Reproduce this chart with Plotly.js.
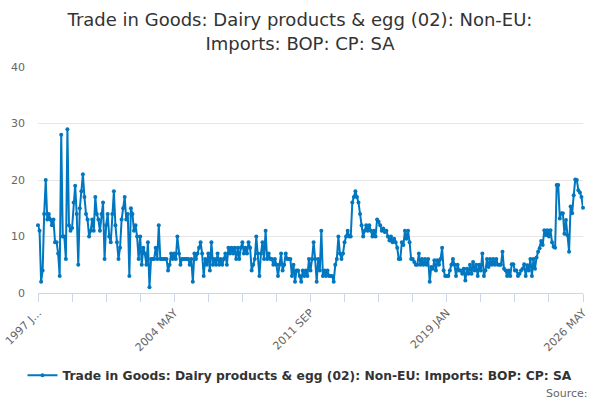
<!DOCTYPE html>
<html>
<head>
<meta charset="utf-8">
<script src="https://cdn.plot.ly/plotly-3.0.1.min.js"></script>
<style>html,body{margin:0;padding:0;background:#fff;}#chart{width:600px;height:400px;}</style>
</head>
<body>
<div id="chart"></div>
<script>
// Monthly series, 1997 JAN to 2026 MAY
var monthNames = ["JAN","FEB","MAR","APR","MAY","JUN","JUL","AUG","SEP","OCT","NOV","DEC"];
var startYear = 1997;
var values1997to2001 = [
  12, 11, 2, 4, 14, 20, 13, 14, 13, 12, 13, 9,
  9, 7, 3, 28, 10, 10, 6, 29, 12, 11, 11.5, 16,
  19, 14, 5, 15, 18, 21, 17, 14, 13, 10, 11, 13,
  11, 17, 14, 13, 11, 14, 16, 6, 12, 14, 10, 9,
  14, 18, 12, 9, 6, 8, 13, 15, 17, 13, 14
];
var values2001to2005 = [
  3, 15, 14, 11, 12, 10, 6, 10, 5, 8,
  7, 5, 9, 1, 6, 6, 6, 8, 6, 12,
  6, 6, 6, 6, 6, 4, 5, 7, 6, 7,
  6, 10, 7, 5, 6, 6, 6, 6, 6, 5, 6
];
var values2005to2007 = [
  2, 7, 6, 7, 8, 9, 7, 3, 6, 5,
  7, 4, 9, 5, 6, 5, 7, 5, 6, 5,
  6, 7, 5, 8, 7, 8, 7, 8, 6, 8
];
var values2007to2011 = [
  6, 8, 9, 7, 8, 7, 9, 8, 4, 5,
  6, 10, 7, 3, 7, 9, 6, 11, 6, 7,
  6, 6, 5, 6, 5, 3, 5, 7, 4, 5,
  7, 6, 6, 6, 3, 5, 2, 4, 4, 3
];
var values2011to2016 = [
  2, 4, 3, 4, 3, 6, 4, 6, 9, 6,
  2, 6, 4, 11, 3, 4, 3, 4, 3, 3,
  3, 2, 5, 6, 10, 7, 6, 7, 9, 10,
  11, 10, 10, 16, 17, 18, 17, 16, 14, 12,
  10, 11, 12, 11, 12, 11, 10, 11, 10, 13,
  12.6, 12, 11, 11.4, 10.8, 11, 10, 9.3, 10, 9,
  9.6, 9, 8, 6
];
var values2016to2021 = [
  6, 9, 8.5, 11, 9.6, 11, 9, 6, 6, 5.5,
  5, 5, 7, 5, 6, 5, 6, 5, 6, 2,
  4.6, 4.3, 5.8, 4, 5.8, 5, 6, 8, 4, 3,
  3, 3, 4, 5, 6, 5, 3, 5, 4, 4,
  3.4, 4.3, 2.2, 4.3, 3.4, 5, 3.4, 5.5, 4, 5,
  3, 5, 4, 7, 3, 4, 6, 4.6, 6, 5,
  6, 5, 6, 5, 5
];
var values2021to2026 = [
  5, 7.3, 4.3, 4, 3, 4, 3, 5.1, 5.1, 4,
  4, 3, 3.4, 4, 4.3, 5.1, 3, 4.9, 4, 6,
  3, 6, 4.3, 6.3, 7.3, 7.9, 9.2, 8.5, 11.1, 10.2,
  11.1, 10, 11.1, 9, 8.2, 8, 19.1, 19.1, 13.2, 14.1,
  14.1, 10.5, 12.9, 10.2, 7.3, 15.3, 14.1, 17.3, 20.1, 20,
  18.2, 17.8, 17, 15.1
];
var values = [].concat(values1997to2001, values2001to2005, values2005to2007,
  values2007to2011, values2011to2016, values2016to2021, values2021to2026);

var categories = [];
for (var i = 0; i < values.length; i++) {
  var y = startYear + Math.floor(i / 12);
  categories.push(y + " " + monthNames[i % 12]);
}

var tickStep = 22;
var labelledTicks = {"1997 JAN": "1997 J...", "2004 MAY": "2004 MAY", "2011 SEP": "2011 SEP", "2019 JAN": "2019 JAN", "2026 MAY": "2026 MAY"};
var tickVals = [], tickText = [];
for (var k = 0; k < categories.length; k += tickStep) {
  tickVals.push(categories[k]);
  tickText.push(labelledTicks[categories[k]] || "");
}
var yTicks = [0, 10, 20, 30, 40];

var seriesName = "Trade in Goods: Dairy products & egg (02): Non-EU: Imports: BOP: CP: SA";
var titleText = "Trade in Goods: Dairy products & egg (02): Non-EU:<br>Imports: BOP: CP: SA";

var trace = {
  x: categories,
  y: values,
  type: "scatter",
  mode: "lines+markers",
  name: seriesName,
  line: {color: "#0077c0", width: 2},
  marker: {color: "#0077c0", size: 4},
  cliponaxis: false
};

var layout = {
  width: 600, height: 400,
  paper_bgcolor: "#fff", plot_bgcolor: "#fff",
  margin: {l: 38, r: 17, t: 67, b: 107},
  font: {family: "DejaVu Sans, sans-serif", color: "#666"},
  title: {text: titleText, font: {size: 18, color: "#333", family: "DejaVu Sans, sans-serif"},
          x: 0.5, xanchor: "center", y: 0.934, yanchor: "top", yref: "container"},
  xaxis: {
    type: "category",
    range: [0, categories.length - 1],
    tickmode: "array", tickvals: tickVals, ticktext: tickText,
    tickangle: -45, ticks: "outside", ticklen: 8, tickcolor: "#ccd6eb", tickwidth: 1,
    showline: true, linecolor: "#ccd6eb", linewidth: 1,
    showgrid: false, zeroline: false,
    tickfont: {size: 11, color: "#666"}
  },
  yaxis: {
    range: [0, 40], tickvals: yTicks,
    showgrid: true, gridcolor: "#e6e6e6", zeroline: false, showline: false,
    ticks: "", ticklabelstandoff: 12, tickfont: {size: 11, color: "#666"}
  },
  showlegend: true,
  legend: {orientation: "h", x: 0.5, xanchor: "center", xref: "container", y: 0.062, yanchor: "middle", yref: "container",
           font: {size: 12.3, color: "#333", weight: "bold"}, itemwidth: 30},
  annotations: [{
    text: "Source:", xref: "paper", yref: "paper", x: 1.013, y: -0.405, xanchor: "right", yanchor: "top",
    showarrow: false, font: {size: 11, color: "#666"}
  }]
};

Plotly.newPlot("chart", [trace], layout, {displayModeBar: false, staticPlot: true});
</script>
</body>
</html>
